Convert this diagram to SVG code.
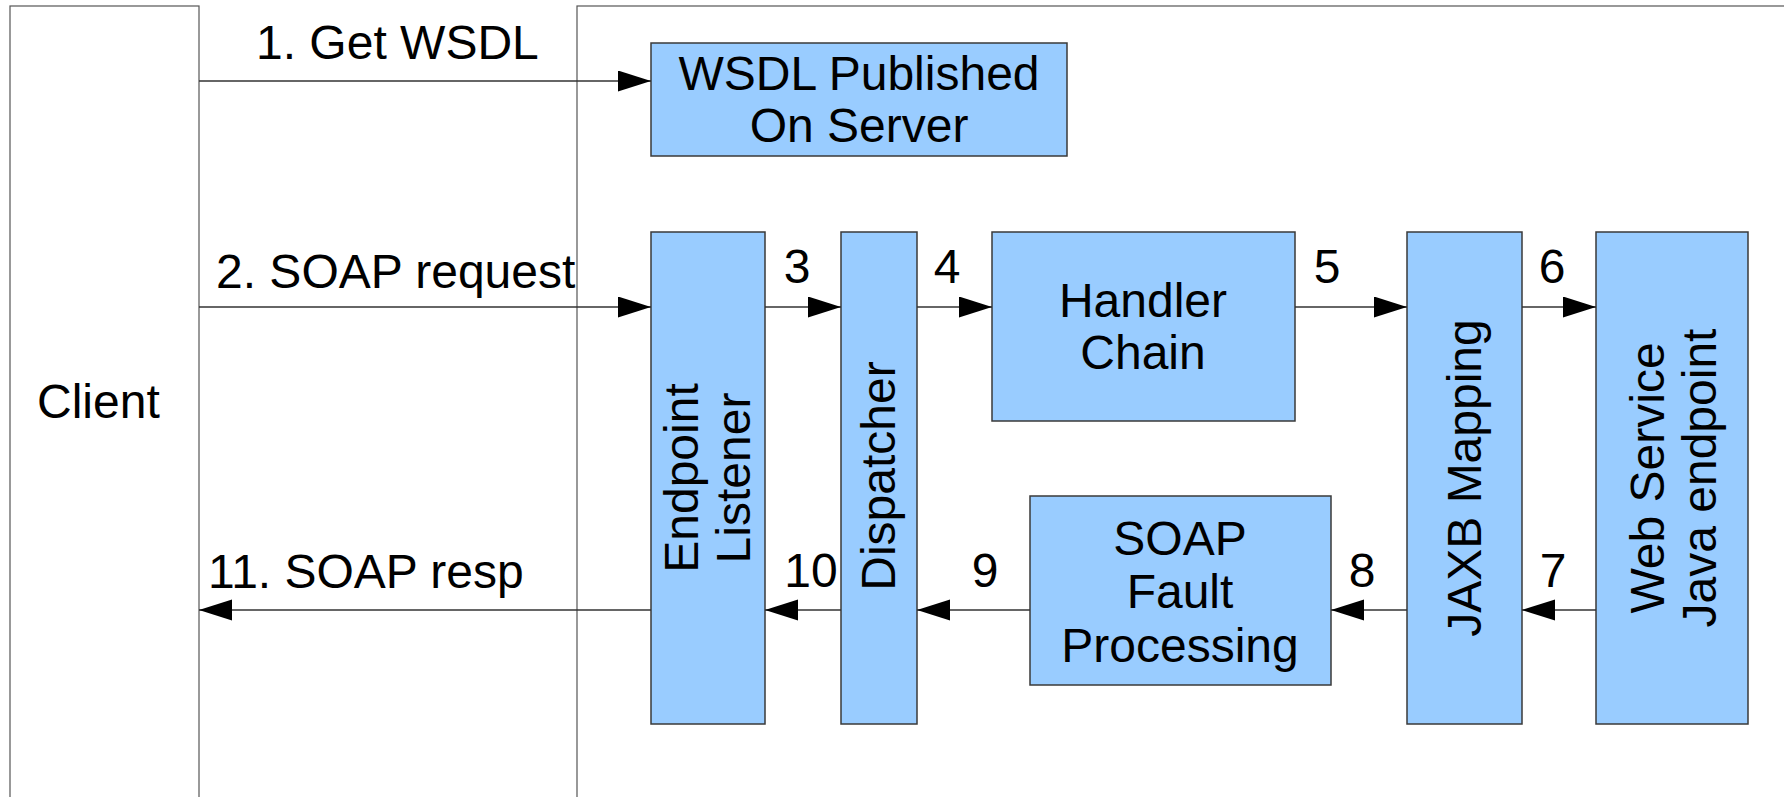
<svg xmlns="http://www.w3.org/2000/svg" width="1784" height="797" viewBox="0 0 1784 797">
<style>
.lane{fill:none;stroke:#555;stroke-width:1.2}
.box{fill:#99ccff;stroke:#3a3a3a;stroke-width:1.5}
.t{font-family:"Liberation Sans",Arial,sans-serif;font-size:48px;fill:#000}
.c{text-anchor:middle}
.conn{stroke:#333;stroke-width:1.6;fill:none;marker-end:url(#ah)}
</style>
<defs>
<marker id="ah" markerUnits="userSpaceOnUse" markerWidth="34" markerHeight="22" refX="33" refY="10.5" orient="auto">
<path d="M0,0 L33,10.5 L0,21 Z" fill="#000"/>
</marker>
</defs>
<rect width="1784" height="797" fill="#fff"/>
<g id="client">
<rect class="lane" x="10" y="6" width="189" height="820"/>
<text class="t" x="37" y="418">Client</text>
</g>
<g id="server">
<rect class="lane" x="577" y="6" width="1230" height="820"/>
</g>
<g id="wsdl">
<rect class="box" x="651" y="43" width="416" height="113"/>
<text class="t c" x="859" y="90">WSDL Published</text>
<text class="t c" x="859" y="142">On Server</text>
</g>
<g id="endpoint-listener">
<rect class="box" x="651" y="232" width="114" height="492"/>
<text class="t c" transform="translate(698,478) rotate(-90)">Endpoint</text>
<text class="t c" transform="translate(750,478) rotate(-90)">Listener</text>
</g>
<g id="dispatcher">
<rect class="box" x="841" y="232" width="76" height="492"/>
<text class="t c" transform="translate(895,476) rotate(-90)">Dispatcher</text>
</g>
<g id="handler-chain">
<rect class="box" x="992" y="232" width="303" height="189"/>
<text class="t c" x="1143" y="317">Handler</text>
<text class="t c" x="1143" y="369">Chain</text>
</g>
<g id="jaxb">
<rect class="box" x="1407" y="232" width="115" height="492"/>
<text class="t c" transform="translate(1481,478) rotate(-90)">JAXB Mapping</text>
</g>
<g id="web-service">
<rect class="box" x="1596" y="232" width="152" height="492"/>
<text class="t c" transform="translate(1664,478) rotate(-90)">Web Service</text>
<text class="t c" transform="translate(1716,478) rotate(-90)">Java endpoint</text>
</g>
<g id="soap-fault">
<rect class="box" x="1030" y="496" width="301" height="189"/>
<text class="t c" x="1180" y="555">SOAP</text>
<text class="t c" x="1180" y="608">Fault</text>
<text class="t c" x="1180" y="662">Processing</text>
</g>
<g id="connectors">
<line class="conn" x1="199" y1="81" x2="651" y2="81"/>
<line class="conn" x1="199" y1="307" x2="651" y2="307"/>
<line class="conn" x1="765" y1="307" x2="841" y2="307"/>
<line class="conn" x1="917" y1="307" x2="992" y2="307"/>
<line class="conn" x1="1295" y1="307" x2="1407" y2="307"/>
<line class="conn" x1="1522" y1="307" x2="1596" y2="307"/>
<line class="conn" x1="1596" y1="610" x2="1522" y2="610"/>
<line class="conn" x1="1407" y1="610" x2="1331" y2="610"/>
<line class="conn" x1="1030" y1="610" x2="917" y2="610"/>
<line class="conn" x1="841" y1="610" x2="765" y2="610"/>
<line class="conn" x1="651" y1="610" x2="199" y2="610"/>
<text class="t" x="256" y="59">1. Get WSDL</text>
<text class="t" x="216" y="288">2. SOAP request</text>
<text class="t c" x="797" y="283">3</text>
<text class="t c" x="947" y="283">4</text>
<text class="t c" x="1327" y="283">5</text>
<text class="t c" x="1552" y="283">6</text>
<text class="t c" x="1553" y="587">7</text>
<text class="t c" x="1362" y="587">8</text>
<text class="t c" x="985" y="587">9</text>
<text class="t c" x="811" y="587">10</text>
<text class="t" x="208" y="588">11. SOAP resp</text>
</g>
</svg>
